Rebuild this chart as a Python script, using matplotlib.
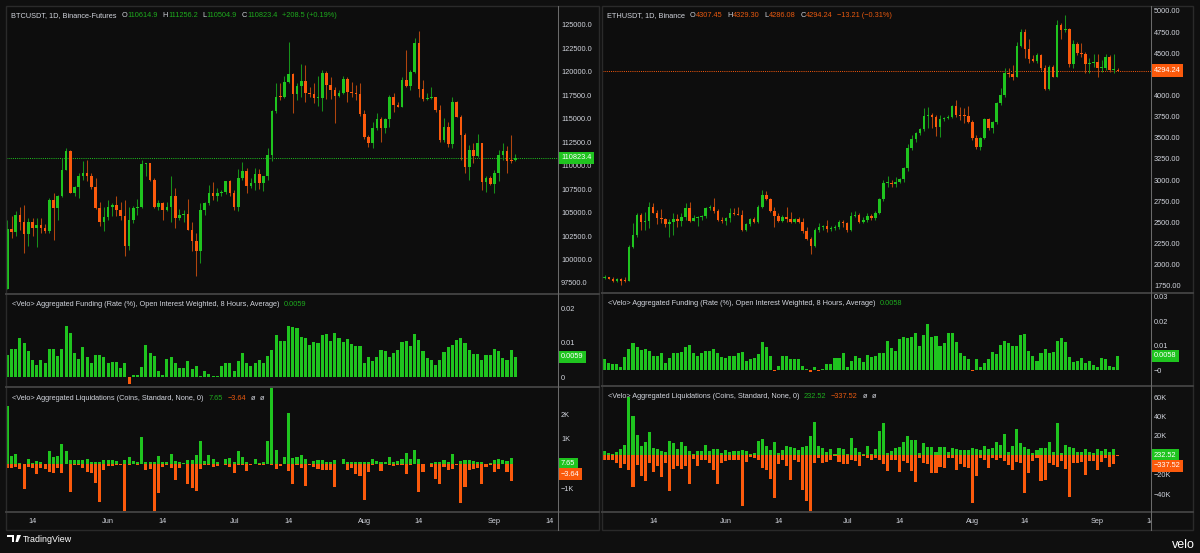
import numpy as np
import pandas as pd
import matplotlib
matplotlib.use("Agg")
import matplotlib.pyplot as plt
import matplotlib.dates as mdates
from matplotlib.patches import Rectangle, Polygon
from matplotlib.lines import Line2D
from matplotlib.text import Annotation
from matplotlib.transforms import Bbox, TransformedBbox

plt.rcParams['font.family'] = ['Liberation Sans', 'DejaVu Sans']

# ---------------- data ----------------
btc_first_open = 96.90
btc_close = np.array([
    103.24, 102.92, 104.77, 103.95, 102.71, 104.05, 103.35, 103.63, 103.35, 103.06,
    106.36, 105.48, 106.72, 109.56, 111.58, 107.14, 107.68, 108.92, 109.27, 108.85,
    107.68, 105.48, 103.95, 104.48, 105.55, 105.76, 105.23, 104.59, 101.39, 104.23,
    105.48, 105.65, 110.16, 110.27, 108.49, 105.58, 106.01, 105.30, 105.55, 106.72,
    104.41, 104.77, 104.84, 103.17, 101.93, 100.86, 105.23, 106.01, 107.14, 106.79,
    107.07, 107.25, 108.32, 107.07, 105.58, 108.74, 109.45, 107.85, 108.14, 109.13,
    108.14, 108.85, 111.16, 115.84, 117.37, 117.30, 118.97, 119.78, 117.65, 118.50,
    119.04, 117.72, 117.65, 117.19, 117.26, 119.85, 118.61, 118.08, 117.47, 117.79,
    119.28, 117.90, 117.79, 117.65, 115.52, 113.11, 112.40, 114.07, 114.95, 113.99,
    114.95, 117.37, 116.48, 116.30, 119.14, 118.50, 120.03, 123.12, 118.15, 117.08,
    117.26, 117.30, 115.95, 112.75, 114.10, 112.33, 116.84, 115.24, 113.29, 109.91,
    111.69, 111.05, 112.40, 108.21, 108.67, 108.07, 109.20, 111.16, 111.58, 110.52,
    110.45, 110.8234]) * 1000
btc_high = np.array([
    104.23, 104.59, 105.12, 105.65, 105.83, 104.41, 104.41, 104.41, 104.41, 103.77,
    106.54, 107.07, 106.89, 110.80, 111.87, 111.69, 107.85, 109.27, 110.45, 110.62,
    109.20, 108.74, 106.18, 105.65, 106.36, 106.01, 106.72, 106.18, 106.36, 105.65,
    105.72, 106.43, 110.62, 110.34, 110.27, 108.67, 106.36, 106.18, 106.08, 108.85,
    107.61, 105.37, 105.30, 106.43, 103.95, 102.81, 106.01, 106.18, 107.96, 108.21,
    107.61, 107.43, 108.39, 108.49, 107.36, 109.63, 110.37, 109.74, 108.67, 109.74,
    109.63, 108.92, 111.87, 115.95, 118.79, 118.79, 119.57, 123.23, 119.92, 118.79,
    120.81, 120.74, 118.36, 118.79, 119.57, 120.21, 120.10, 119.43, 118.36, 118.08,
    119.57, 119.43, 118.97, 118.61, 118.79, 115.95, 113.29, 114.71, 115.59, 115.24,
    115.06, 117.55, 117.72, 116.84, 119.43, 122.34, 120.21, 123.65, 124.40, 119.14,
    117.72, 118.36, 117.37, 116.48, 115.06, 114.71, 117.30, 116.91, 115.42, 113.53,
    112.22, 112.40, 113.36, 112.47, 108.85, 108.85, 109.56, 111.69, 112.47, 112.11,
    113.29, 111.2562]) * 1000
btc_low = np.array([
    96.85, 102.28, 102.46, 103.17, 100.68, 101.39, 102.46, 101.29, 102.81, 102.81,
    102.81, 102.10, 104.16, 106.65, 109.49, 107.07, 106.72, 106.54, 108.49, 108.32,
    107.50, 105.40, 103.59, 102.99, 104.23, 104.59, 104.59, 104.23, 100.33, 101.04,
    103.88, 104.77, 105.48, 108.85, 108.32, 105.48, 105.30, 104.23, 105.12, 104.05,
    103.35, 104.23, 104.05, 103.10, 100.86, 98.20, 99.62, 104.77, 105.83, 106.36,
    106.29, 106.72, 107.00, 106.72, 105.30, 105.12, 108.49, 107.14, 107.61, 107.43,
    107.50, 107.32, 108.49, 110.45, 115.66, 117.01, 117.19, 118.86, 115.66, 117.01,
    117.37, 116.84, 117.37, 116.66, 116.37, 115.88, 117.12, 117.12, 114.60, 117.37,
    117.65, 116.84, 117.30, 117.01, 115.31, 112.82, 111.97, 111.87, 113.82, 112.58,
    113.46, 114.17, 115.77, 116.23, 116.23, 118.36, 118.08, 119.92, 117.37, 116.94,
    117.01, 117.08, 115.77, 112.58, 112.58, 112.04, 111.87, 115.17, 110.62, 109.20,
    108.49, 110.27, 110.98, 107.36, 107.25, 107.96, 107.14, 108.32, 110.62, 109.27,
    110.27, 110.5049]) * 1000
btc_last_open = 110614.9

btc_funding = [
    0.0066, 0.0083, 0.0083, 0.0115, 0.0098, 0.0076, 0.0050, 0.0037, 0.0050, 0.0042,
    0.0083, 0.0081, 0.0061, 0.0083, 0.0149, 0.0129, 0.0071, 0.0053, 0.0088, 0.0058,
    0.0042, 0.0066, 0.0066, 0.0058, 0.0040, 0.0044, 0.0044, 0.0027, 0.0042, -0.0018,
    0.0006, 0.0006, 0.0030, 0.0095, 0.0069, 0.0063, 0.0017, 0.0008, 0.0053, 0.0058,
    0.0042, 0.0027, 0.0027, 0.0047, 0.0024, 0.0032, 0.0003, 0.0017, 0.0011, 0.0005,
    0.0003, 0.0032, 0.0042, 0.0042, 0.0017, 0.0047, 0.0071, 0.0042, 0.0032, 0.0040,
    0.0050, 0.0042, 0.0063, 0.0079, 0.0122, 0.0105, 0.0105, 0.0150, 0.0146, 0.0144,
    0.0117, 0.0113, 0.0093, 0.0103, 0.0100, 0.0124, 0.0126, 0.0105, 0.0129, 0.0115,
    0.0103, 0.0112, 0.0097, 0.0092, 0.0090, 0.0040, 0.0058, 0.0047, 0.0058, 0.0078,
    0.0076, 0.0058, 0.0069, 0.0079, 0.0102, 0.0105, 0.0092, 0.0126, 0.0107, 0.0076,
    0.0056, 0.0049, 0.0037, 0.0051, 0.0073, 0.0088, 0.0095, 0.0108, 0.0115, 0.0098,
    0.0079, 0.0068, 0.0068, 0.0050, 0.0066, 0.0066, 0.0081, 0.0076, 0.0056, 0.0051,
    0.0078, 0.0059]

btc_liq_up = [
    2306, 320, 387, 53, 13, 213, 53, 120, 80, 13,
    520, 280, 320, 813, 507, 147, 147, 147, 147, 213,
    80, 80, 80, 147, 147, 147, 107, 13, 147, 280,
    107, 80, 1080, 80, 80, 80, 320, 80, 80, 413,
    120, 80, 40, 147, 147, 373, 920, 120, 347, 213,
    80, 13, 213, 240, 80, 520, 280, 80, 13, 213,
    53, 80, 907, 3200, 573, 13, 280, 2040, 240, 280,
    347, 213, 13, 120, 173, 173, 80, 80, 147, 13,
    213, 80, 80, 80, 80, 80, 80, 213, 120, 80,
    80, 280, 80, 120, 213, 453, 213, 547, 213, 13,
    13, 40, 80, 80, 147, 80, 413, 13, 107, 147,
    147, 107, 80, 80, 13, 40, 147, 213, 147, 120,
    253, 7.65]
btc_liq_down = [
    160, 160, 120, 187, 1027, 120, 160, 387, 160, 187,
    320, 360, 147, 360, 10, 1120, 53, 53, 147, 320,
    360, 787, 1520, 253, 93, 93, 53, 53, 1880, 53,
    13, 53, 10, 253, 187, 1960, 1160, 120, 53, 147,
    653, 147, 13, 813, 960, 1093, 187, 53, 53, 120,
    93, 13, 53, 120, 360, 53, 53, 280, 53, 10,
    53, 53, 13, 53, 187, 93, 13, 293, 827, 53,
    160, 893, 53, 120, 187, 253, 253, 253, 947, 13,
    13, 227, 160, 387, 493, 1453, 320, 53, 13, 293,
    13, 53, 80, 53, 53, 413, 53, 13, 1120, 320,
    13, 120, 587, 827, 120, 253, 187, 53, 1587, 947,
    227, 187, 160, 813, 120, 53, 320, 187, 13, 320,
    680, 3.64]

eth_first_open = 1837
eth_close = np.array([
    1857, 1833, 1809, 1825, 1809, 1805, 2212, 2350, 2586, 2507,
    2519, 2685, 2614, 2547, 2535, 2476, 2507, 2535, 2519, 2559,
    2673, 2519, 2547, 2559, 2574, 2665, 2685, 2638, 2527, 2519,
    2547, 2606, 2594, 2590, 2409, 2480, 2535, 2507, 2685, 2823,
    2772, 2638, 2574, 2519, 2559, 2539, 2507, 2535, 2507, 2397,
    2298, 2219, 2409, 2448, 2452, 2417, 2436, 2440, 2500, 2488,
    2409, 2574, 2586, 2507, 2527, 2574, 2547, 2614, 2772, 2961,
    2969, 2949, 2981, 3008, 3138, 3375, 3482, 3553, 3600, 3762,
    3769, 3742, 3624, 3718, 3738, 3750, 3876, 3769, 3760, 3752,
    3691, 3493, 3395, 3493, 3722, 3612, 3683, 3908, 4006, 4262,
    4251, 4223, 4586, 4755, 4546, 4428, 4412, 4479, 4322, 4073,
    4341, 4223, 4834, 4775, 4783, 4373, 4610, 4499, 4490, 4373,
    4389, 4401, 4322, 4330, 4452, 4302, 4314, 4294.24])
eth_high = np.array([
    1872, 1857, 1857, 1837, 1837, 1857, 2231, 2488, 2606, 2606,
    2626, 2744, 2732, 2645, 2653, 2547, 2535, 2606, 2594, 2614,
    2724, 2744, 2586, 2574, 2586, 2685, 2705, 2784, 2653, 2567,
    2567, 2665, 2665, 2685, 2645, 2496, 2547, 2559, 2705, 2882,
    2874, 2784, 2685, 2606, 2586, 2685, 2626, 2547, 2567, 2547,
    2448, 2330, 2429, 2488, 2468, 2527, 2460, 2468, 2527, 2527,
    2507, 2626, 2634, 2606, 2567, 2606, 2594, 2638, 2784, 3000,
    3048, 3000, 3040, 3020, 3158, 3426, 3533, 3572, 3612, 3848,
    3868, 3789, 3769, 3769, 3750, 3769, 3888, 3947, 3868, 3848,
    3876, 3710, 3533, 3513, 3730, 3730, 3702, 3927, 4085, 4322,
    4322, 4361, 4637, 4783, 4783, 4665, 4479, 4499, 4491, 4361,
    4361, 4361, 4894, 4862, 4953, 4795, 4657, 4637, 4625, 4519,
    4440, 4491, 4491, 4420, 4491, 4479, 4491, 4329.30])
eth_low = np.array([
    1825, 1825, 1797, 1793, 1758, 1797, 1809, 2192, 2330, 2409,
    2409, 2429, 2606, 2480, 2496, 2448, 2330, 2350, 2448, 2456,
    2527, 2507, 2515, 2460, 2527, 2547, 2645, 2606, 2519, 2488,
    2468, 2507, 2586, 2586, 2401, 2397, 2456, 2496, 2496, 2665,
    2764, 2626, 2448, 2507, 2507, 2507, 2488, 2488, 2488, 2377,
    2290, 2121, 2212, 2389, 2409, 2389, 2397, 2409, 2417, 2448,
    2389, 2401, 2559, 2496, 2496, 2507, 2527, 2527, 2598, 2756,
    2922, 2922, 2922, 2961, 2981, 3111, 3355, 3454, 3533, 3580,
    3612, 3612, 3521, 3513, 3702, 3718, 3730, 3750, 3710, 3671,
    3679, 3474, 3367, 3355, 3482, 3592, 3560, 3663, 3888, 3986,
    4215, 4184, 4215, 4570, 4440, 4381, 4401, 4381, 4302, 4065,
    4065, 4215, 4215, 4665, 4755, 4333, 4322, 4479, 4452, 4270,
    4270, 4341, 4215, 4282, 4302, 4282, 4270, 4286.08])
eth_last_open = 4307.45

eth_funding = [
    0.0045, 0.0030, 0.0024, 0.0024, 0.0011, 0.0052, 0.0086, 0.0109, 0.0092, 0.0082,
    0.0084, 0.0079, 0.0057, 0.0057, 0.0068, 0.0027, 0.0048, 0.0071, 0.0071, 0.0072,
    0.0095, 0.0102, 0.0071, 0.0058, 0.0068, 0.0079, 0.0079, 0.0086, 0.0068, 0.0052,
    0.0048, 0.0058, 0.0058, 0.0068, 0.0072, 0.0038, 0.0044, 0.0048, 0.0065, 0.0113,
    0.0092, 0.0057, -0.0005, 0.0016, 0.0057, 0.0057, 0.0044, 0.0044, 0.0044, 0.0016,
    0.0004, -0.0007, 0.0011, -0.0004, 0.0003, 0.0024, 0.0024, 0.0048, 0.0048, 0.0068,
    0.0011, 0.0038, 0.0057, 0.0048, 0.0034, 0.0061, 0.0054, 0.0058, 0.0071, 0.0071,
    0.0118, 0.0088, 0.0078, 0.0125, 0.0136, 0.0129, 0.0133, 0.0150, 0.0098, 0.0143,
    0.0188, 0.0136, 0.0139, 0.0098, 0.0109, 0.0150, 0.0150, 0.0116, 0.0068, 0.0057,
    0.0044, -0.0003, 0.0045, 0.0014, 0.0027, 0.0044, 0.0072, 0.0065, 0.0102, 0.0120,
    0.0109, 0.0099, 0.0099, 0.0143, 0.0146, 0.0079, 0.0058, 0.0037, 0.0068, 0.0084,
    0.0071, 0.0072, 0.0118, 0.0129, 0.0113, 0.0052, 0.0034, 0.0038, 0.0048, 0.0030,
    0.0037, 0.0020, 0.0011, 0.0048, 0.0044, 0.0016, 0.0014, 0.0058]

eth_liq_up = np.array([
    4.1, 2.4, 1.7, 3.1, 6.6, 10.4, 60.4, 40.4, 20.7, 9.3,
    13.5, 23.8, 7.6, 6.9, 4.1, 3.5, 15.2, 12.8, 6.9, 13.8,
    9.3, 4.1, 1.4, 4.1, 4.1, 11.0, 4.1, 6.9, 6.9, 2.4,
    5.9, 3.5, 4.8, 4.8, 5.2, 4.1, 1.4, 2.4, 14.5, 17.3,
    10.0, 5.2, 13.8, 2.4, 5.2, 9.3, 8.6, 7.6, 5.9, 8.3,
    9.3, 19.7, 34.5, 9.3, 7.6, 3.5, 6.6, 1.4, 7.6, 6.6,
    1.4, 17.9, 7.6, 3.5, 1.4, 9.3, 1.4, 6.9, 25.5, 33.1,
    2.1, 4.8, 7.2, 8.3, 14.1, 20.0, 15.9, 15.9, 2.1, 13.1,
    8.3, 8.3, 3.1, 9.0, 9.0, 3.1, 7.2, 6.2, 5.5, 5.5,
    5.5, 7.2, 6.2, 5.5, 9.7, 6.6, 7.2, 13.5, 10.7, 22.1,
    3.8, 10.0, 26.9, 12.4, 9.0, 6.6, 2.1, 5.5, 7.2, 7.2,
    13.5, 3.1, 33.8, 2.1, 10.7, 8.3, 7.2, 3.8, 3.1, 6.2,
    3.1, 2.1, 6.2, 4.5, 6.2, 3.8, 6.2, 0.23252]) * 1000
eth_liq_down = np.array([
    4.5, 4.5, 5.2, 7.9, 13.1, 8.6, 14.8, 32.8, 9.7, 21.0,
    26.9, 7.9, 17.6, 11.4, 22.8, 7.9, 36.6, 14.1, 11.4, 14.1,
    11.4, 29.3, 3.8, 10.7, 4.5, 5.2, 7.9, 14.8, 29.3, 7.9,
    6.2, 4.5, 4.5, 5.2, 52.1, 6.9, 1.7, 2.8, 4.5, 13.1,
    14.8, 24.5, 44.2, 8.6, 4.5, 11.4, 25.2, 5.2, 7.2, 36.2,
    47.6, 59.0, 7.9, 2.8, 7.9, 7.2, 5.2, 1.0, 7.2, 8.6,
    8.6, 4.5, 6.2, 11.4, 1.0, 2.8, 5.2, 2.8, 4.8, 9.0,
    15.9, 4.8, 4.8, 16.9, 5.5, 7.6, 15.9, 27.3, 3.1, 7.6,
    9.0, 18.6, 17.9, 11.7, 12.8, 3.1, 3.1, 15.2, 9.0, 11.7,
    13.5, 49.7, 21.4, 3.1, 4.8, 12.8, 3.1, 4.8, 3.1, 5.5,
    10.0, 15.2, 6.6, 7.6, 38.6, 18.6, 5.5, 2.4, 26.2, 25.5,
    7.6, 10.0, 11.7, 5.5, 14.5, 43.5, 7.6, 8.3, 6.6, 20.4,
    5.5, 5.5, 15.2, 6.6, 2.4, 12.4, 9.0, 0.33752]) * 1000

btc_dates = pd.date_range("2025-05-08", periods=len(btc_close), freq="D")
eth_dates = pd.date_range("2025-05-02", periods=len(eth_close), freq="D")

tick_dates = pd.to_datetime(["2025-05-14", "2025-06-01", "2025-06-14", "2025-07-01", "2025-07-14",
                             "2025-08-01", "2025-08-14", "2025-09-01", "2025-09-14"])
tick_labels = ["14", "Jun", "14", "Jul", "14", "Aug", "14", "Sep", "14"]

btc_price_ticks = np.arange(97500, 125001, 2500)
eth_price_ticks = np.arange(1750, 5001, 250)

# ---------------- style ----------------
W, H = 1200, 553
BG = "#0f0f0f"
PANE = "#0d0d0d"
TXT = "#d1d4dc"
GREEN = "#1fc41f"
ORANGE = "#fb5a0c"
GREEN_W = "#17901a"
ORANGE_W = "#b0450e"
GH = "#1eaa1e"
OH = "#e8590f"
FRAME = "#2a2a2a"
SEP = "#404040"
FS = 5.3

fig = plt.figure(figsize=(12, 5.53), dpi=100, facecolor=BG)


def rect(x0, y0, x1, y1):
    return [x0 / W, 1 - y1 / H, (x1 - x0) / W, (y1 - y0) / H]


def fline(x0, y0, x1, y1, color, lw):
    fig.add_artist(Line2D([x0 / W, x1 / W], [1 - y0 / H, 1 - y1 / H], transform=fig.transFigure,
                          color=color, lw=lw))


def style(ax):
    ax.set_facecolor(PANE)
    for s in ax.spines.values():
        s.set_visible(False)
    ax.yaxis.tick_right()
    ax.tick_params(axis="both", length=0, labelsize=FS, labelcolor=TXT, pad=2.4)


def rainbow(x, y, pieces):
    t = fig.text(x / W, 1 - y / H, pieces[0][0], color=pieces[0][1], fontsize=FS, va="center", ha="left")
    for s, c, g in pieces[1:]:
        a = Annotation(s, xy=(1, 0.5), xycoords=t, xytext=(g, 0), textcoords="offset points",
                       color=c, fontsize=FS, va="center", ha="left")
        fig.add_artist(a)
        t = a


def value_box(ax, y, s, fc, dy=0):
    ax.annotate(s, xy=(1, y), xycoords=ax.get_yaxis_transform(), xytext=(2.4, dy),
                textcoords="offset points", ha="left", va="center", fontsize=FS, color="white",
                bbox=dict(boxstyle="square,pad=0.36", fc=fc, ec="none"), zorder=10,
                annotation_clip=False)


def candles(ax, dates, o, h, l, c, minh):
    up = c >= o
    ax.vlines(dates, np.minimum(l, np.minimum(o, c)), np.maximum(h, np.maximum(o, c)),
              colors=np.where(up, GREEN_W, ORANGE_W), lw=0.75, zorder=2)
    ax.bar(dates, np.maximum(np.abs(c - o), minh), bottom=np.minimum(o, c), width=0.62,
           color=np.where(up, GREEN, ORANGE), zorder=3)


def panel(x0, xa, x1, ys, dates, o, h, l, c, minh, plim, pticks, pfmt, flim, fticks, flabels,
          funding, llim, lticks, llabels, lup, ldown, xlim, last_col, price_fmt):
    yp0, yp1, yf1, yl1, yb = ys
    axp = fig.add_axes(rect(x0, yp0, xa, yp1))
    axf = fig.add_axes(rect(x0, yp1, xa, yf1), sharex=axp)
    axl = fig.add_axes(rect(x0, yf1, xa, yl1), sharex=axp)
    for ax in (axp, axf, axl):
        style(ax)
    candles(axp, dates, o, h, l, c, minh)
    axp.axhline(c[-1], color=last_col, lw=0.7, ls=(0, (1, 1.2)), zorder=1)
    axp.set_ylim(*plim)
    axp.set_yticks(pticks)
    axp.set_yticklabels([pfmt.format(v) for v in pticks])
    value_box(axp, c[-1], price_fmt.format(c[-1]), last_col)

    fund = np.array(funding)
    axf.bar(dates, fund, width=0.76, color=np.where(fund >= 0, GREEN, ORANGE), zorder=2)
    axf.set_ylim(*flim)
    axf.set_yticks(fticks)
    axf.set_yticklabels(flabels)
    value_box(axf, fund[-1], "{:.4f}".format(fund[-1]), GREEN)

    axl.bar(dates, lup, width=0.76, color=GREEN, zorder=2)
    axl.bar(dates, -np.asarray(ldown), width=0.76, color=ORANGE, zorder=2)
    axl.set_ylim(*llim)
    axl.set_yticks(lticks)
    axl.set_yticklabels(llabels)
    value_box(axl, lup[-1], "{:.2f}".format(lup[-1]), GREEN)
    value_box(axl, lup[-1], "\u2212{:.2f}".format(ldown[-1]), ORANGE, dy=-7.6)

    axl.set_xlim(*xlim)
    axl.set_xticks(tick_dates)
    axl.set_xticklabels(tick_labels)
    axl.tick_params(axis="x", pad=4.4)
    for ax in (axp, axf):
        ax.tick_params(axis="x", labelbottom=False)

    # frame, pane separators, price-axis line
    fig.add_artist(Rectangle((x0 / W, 1 - 530 / H), (x1 - x0) / W, (530 - 6) / H,
                             transform=fig.transFigure, fill=False, ec=FRAME, lw=1.0))
    for y in (yp1, yf1, yl1):
        fline(x0, y, x1, y, SEP, 1.4)
    fline(xa, 6, xa, 530, "#6a6a6a", 0.75)
    return axp, axf, axl


def dnum(d, off):
    return mdates.date2num(pd.Timestamp(d)) + off


btc_open = np.r_[btc_first_open * 1000, btc_close[:-1]]
btc_open[-1] = btc_last_open
eth_open = np.r_[eth_first_open, eth_close[:-1]]
eth_open[-1] = eth_last_open

lp, lf, ll = panel(6, 557.7, 599, (6, 294, 387, 512, 530), btc_dates, btc_open, btc_high, btc_low,
                   btc_close, 110, (96324, 127025), btc_price_ticks, "{:.1f}",
                   (-0.00281, 0.02414), [0, 0.01, 0.02], ["0", "0.01", "0.02"], btc_funding,
                   (-1932, 3088), [2000, 1000, -1000], ["2K", "1K", "\u22121K"],
                   np.array(btc_liq_up, float), np.array(btc_liq_down, float),
                   (dnum("2025-05-08", -0.31), dnum("2025-05-08", 131.05)), GREEN, "{:.1f}")

rp, rf, rl = panel(602.3, 1150.7, 1193, (6, 293, 386, 512, 530), eth_dates, eth_open, eth_high, eth_low,
                   eth_close, 12, (1664, 5059), eth_price_ticks, "{:.2f}",
                   (-0.00653, 0.03143), [0, 0.01, 0.02, 0.03], ["\u22120", "0.01", "0.02", "0.03"],
                   eth_funding, (-58600, 71700), [60000, 40000, 20000, -20000, -40000],
                   ["60K", "40K", "20K", "\u221220K", "\u221240K"], eth_liq_up, eth_liq_down,
                   (dnum("2025-05-02", -0.6), dnum("2025-05-02", 135.15)), ORANGE, "{:.2f}")

# clip the last date label of the right panel at the price axis, as in the screenshot
clip = TransformedBbox(Bbox([[0, 0], [1150.5 / W, 1]]), fig.transFigure)
for tk in rl.xaxis.get_major_ticks():
    tk.label1.set_clip_box(clip)
    tk.label1.set_clip_on(True)

# ---------------- headers ----------------
rainbow(11, 15.7, [("BTCUSDT, 1D, Binance-Futures", TXT, 0),
                   ("O", TXT, 3.4), ("{:.1f}".format(btc_last_open), GH, 0.2),
                   ("H", TXT, 3.4), ("{:.1f}".format(btc_high[-1]), GH, 0.2),
                   ("L", TXT, 3.4), ("{:.1f}".format(btc_low[-1]), GH, 0.2),
                   ("C", TXT, 3.4), ("{:.1f}".format(btc_close[-1]), GH, 0.2),
                   ("+208.5 (+0.19%)", GH, 3.4)])
rainbow(607.3, 15.7, [("ETHUSDT, 1D, Binance", TXT, 0),
                      ("O", TXT, 3.4), ("{:.2f}".format(eth_last_open), OH, 0.2),
                      ("H", TXT, 3.4), ("{:.2f}".format(eth_high[-1]), OH, 0.2),
                      ("L", TXT, 3.4), ("{:.2f}".format(eth_low[-1]), OH, 0.2),
                      ("C", TXT, 3.4), ("{:.2f}".format(eth_close[-1]), OH, 0.2),
                      ("\u221213.21 (\u22120.31%)", OH, 3.4)])

fund_title = "<Velo> Aggregated Funding (Rate (%), Open Interest Weighted, 8 Hours, Average)"
liq_title = "<Velo> Aggregated Liquidations (Coins, Standard, None, 0)"
rainbow(12, 304, [(fund_title, TXT, 0), ("{:.4f}".format(btc_funding[-1]), GH, 3.4)])
rainbow(607.5, 303.3, [(fund_title, TXT, 0), ("{:.4f}".format(eth_funding[-1]), GH, 3.4)])
rainbow(12, 398.7, [(liq_title, TXT, 0), ("{:.2f}".format(btc_liq_up[-1]), GH, 3.4),
                    ("\u2212{:.2f}".format(btc_liq_down[-1]), OH, 3.4),
                    ("\u00f8", TXT, 3.4), ("\u00f8", TXT, 3.4)])
rainbow(607.5, 396, [(liq_title, TXT, 0), ("{:.2f}".format(eth_liq_up[-1]), GH, 3.4),
                     ("\u2212{:.2f}".format(eth_liq_down[-1]), OH, 3.4),
                     ("\u00f8", TXT, 3.4), ("\u00f8", TXT, 3.4)])

# ---------------- footer ----------------
fig.add_artist(Polygon([[7 / W, 1 - 535 / H], [14 / W, 1 - 535 / H], [14 / W, 1 - 542 / H],
                        [12 / W, 1 - 542 / H], [12 / W, 1 - 537 / H], [7 / W, 1 - 537 / H]],
                       closed=True, transform=fig.transFigure, fc="white", ec="none"))
fig.add_artist(Polygon([[17 / W, 1 - 535 / H], [21 / W, 1 - 535 / H], [18 / W, 1 - 542 / H],
                        [15.5 / W, 1 - 542 / H]],
                       closed=True, transform=fig.transFigure, fc="white", ec="none"))
fig.text(23 / W, 1 - 539.5 / H, "TradingView", color="white", fontsize=6.4, va="center", ha="left")
fig.text(1195 / W, 1 - 545 / H, "velo", color="white", fontsize=9, va="center", ha="right")

fig.savefig("out.png", dpi=100, facecolor=BG)
